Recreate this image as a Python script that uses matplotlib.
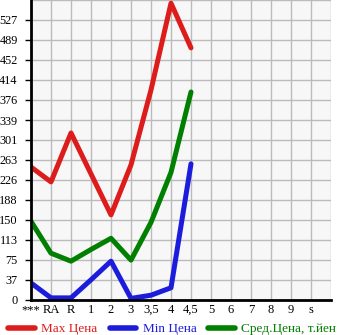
import matplotlib
matplotlib.use("Agg")
import matplotlib.pyplot as plt
from matplotlib.lines import Line2D

categories = ["***", "RA", "R", "1", "2", "3", "3,5", "4", "4,5", "5", "6", "7", "8", "9", "s"]
max_price = [250, 222, 314, 237, 160, 254, 395, 558, 474]
min_price = [32, 4, 4, 38, 73, 3, 9, 23, 256]
avg_price = [148, 88, 73, 95, 116, 75, 146, 240, 391]
ytick_vals = [0, 37.6, 75.2, 112.8, 150.4, 188, 225.6, 263.2, 300.8, 338.4, 376, 413.6, 451.2, 488.8, 526.4]
ytick_labels = ["0", "37", "75", "113", "150", "188", "226", "263", "301", "339", "376", "414", "452", "489", "527"]
labels = ["Max Цена", "Min Цена", "Сред.Цена, т.йен"]
colors = ["#dd1c1c", "#1c1cdd", "#007f00"]

plt.rcParams['font.family'] = ['Liberation Serif', 'DejaVu Serif']
fig = plt.figure(figsize=(3.45, 3.35), dpi=100)
ax = fig.add_axes([31/345, 35/335, 300/345, 300/335])
ax.set_facecolor("#f7f7f7")

for data, c in zip([max_price, min_price, avg_price], colors):
    ax.plot(range(len(data)), data, color=c, lw=3.6, solid_capstyle="round", solid_joinstyle="round", zorder=3)

ax.set_xlim(0, 15)
ax.set_ylim(0, 564)
ax.set_xticks(range(len(categories)))
ax.set_xticklabels(categories, fontsize=9)
ax.set_yticks(ytick_vals)
ax.set_yticklabels(ytick_labels, fontsize=8.8)
ax.set_xticks([15], minor=True)
ax.set_yticks([564], minor=True)
ax.grid(True, which="both", color="#bbbbbb", lw=1)
ax.set_axisbelow(True)
ax.tick_params(axis="y", which="major", length=4, width=1, pad=5.5, direction="out")
ax.tick_params(axis="x", which="major", length=0, pad=3)
ax.tick_params(which="minor", length=0)
for s in ["top", "right"]:
    ax.spines[s].set_visible(False)
for s in ["left", "bottom"]:
    ax.spines[s].set_linewidth(2)
    ax.spines[s].set_color("black")
    ax.spines[s].set_zorder(4)

handles = [Line2D([], [], color=c, lw=4, solid_capstyle="round") for c in colors]
leg = fig.legend(handles, labels, loc="lower left", bbox_to_anchor=(-0.01, -0.036), ncol=3,
                 frameon=False, fontsize=9.5, handlelength=2.0, handletextpad=0.5, columnspacing=0.9)
for t, c in zip(leg.get_texts(), colors):
    t.set_color(c)

fig.savefig("out.png", dpi=100)
